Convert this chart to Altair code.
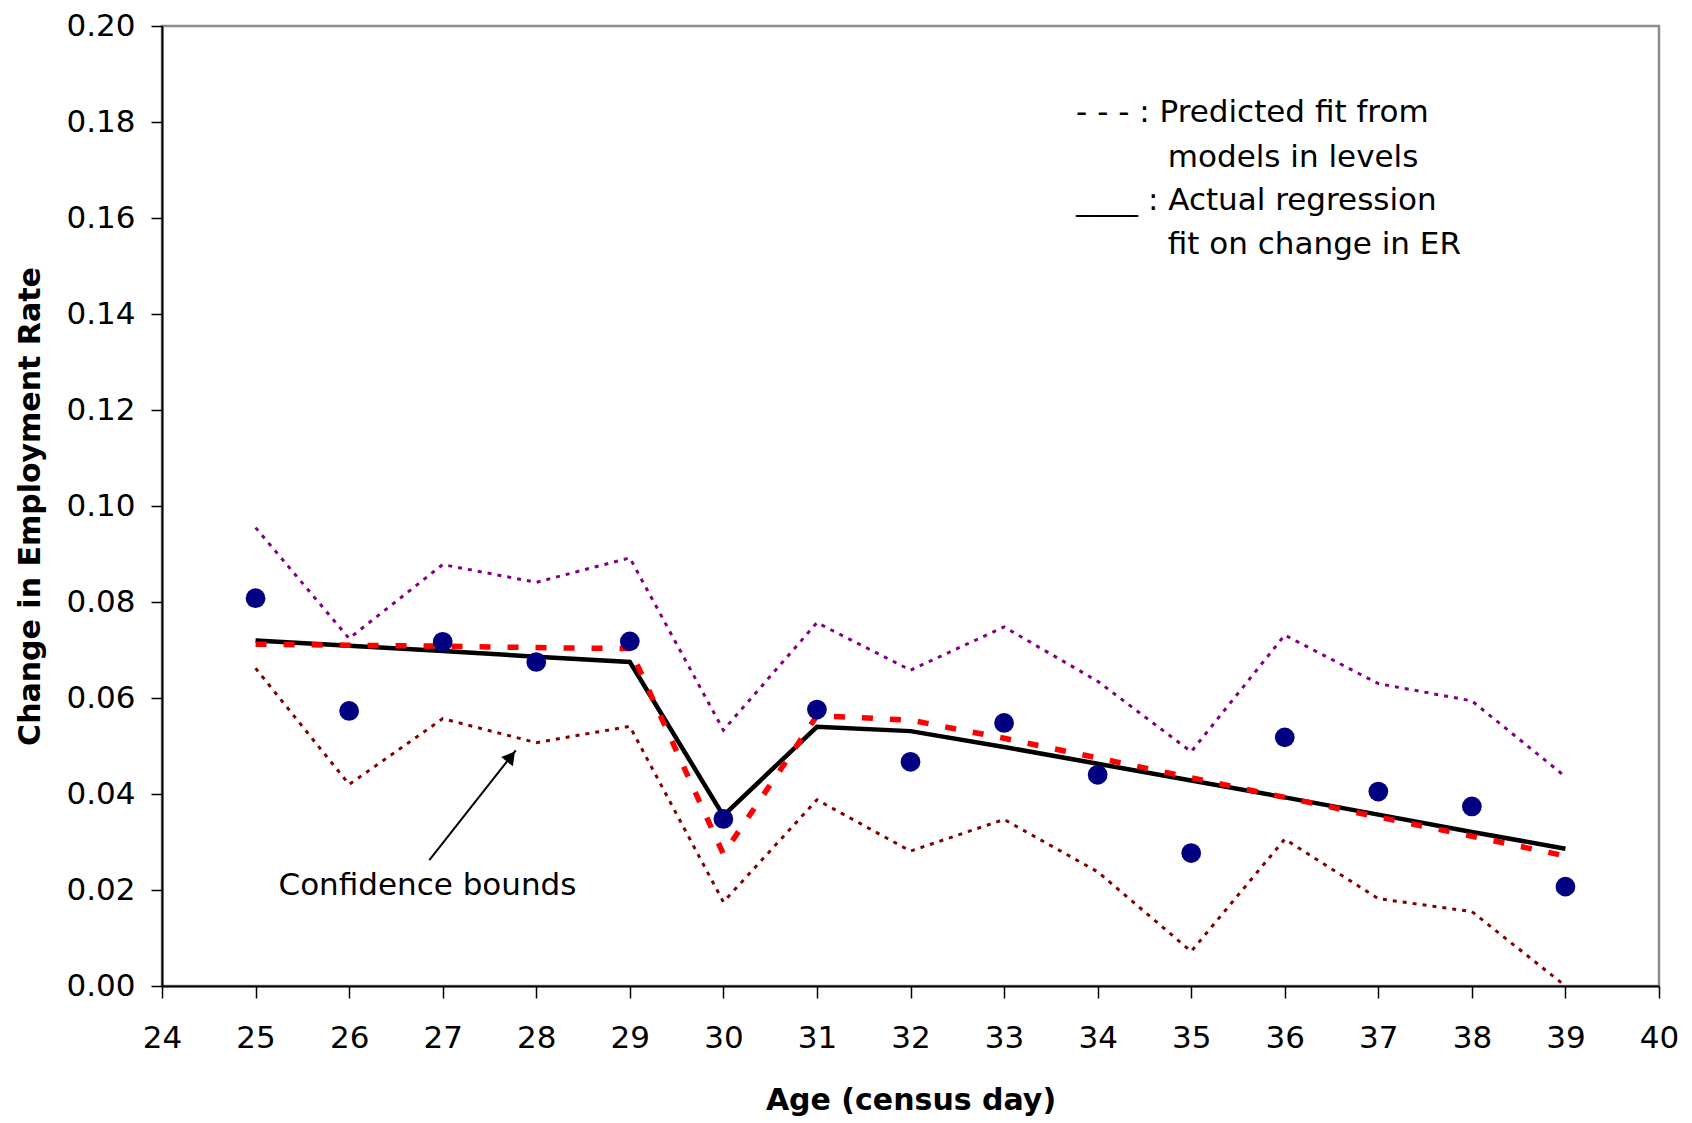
import altair as alt
import pandas as pd

# ---- data ----
ages = [25, 26, 27, 28, 29, 30, 31, 32, 33, 34, 35, 36, 37, 38, 39]
observed = [0.0808, 0.0573, 0.0717, 0.0675, 0.0718, 0.0348, 0.0576, 0.0467, 0.0548, 0.0440,
            0.0277, 0.0518, 0.0405, 0.0374, 0.0207]
actual_fit = [0.0720, 0.0709, 0.0698, 0.0686, 0.0675, 0.0355, 0.0540, 0.0531, 0.0498, 0.0463,
              0.0428, 0.0393, 0.0357, 0.0321, 0.0286]
predicted_fit = [0.0712, 0.0710, 0.0708, 0.0705, 0.0703, 0.0275, 0.0563, 0.0554, 0.0516, 0.0475,
                 0.0434, 0.0393, 0.0352, 0.0312, 0.0271]
upper_bound = [0.0955, 0.0724, 0.0878, 0.0841, 0.0892, 0.0533, 0.0757, 0.0658, 0.0748, 0.0635,
               0.0488, 0.0731, 0.0630, 0.0594, 0.0436]
lower_bound = [0.0662, 0.0420, 0.0557, 0.0507, 0.0541, 0.0175, 0.0388, 0.0281, 0.0347, 0.0238,
               0.0072, 0.0306, 0.0182, 0.0155, 0.0000]

legend_lines = ["- - - : Predicted fit from", "models in levels",
                "____ : Actual regression", "fit on change in ER"]
legend_x = [33.77, 34.75, 33.77, 34.75]
legend_y = [0.1800, 0.1707, 0.1617, 0.1526]

note_text = ["Confidence bounds"]
note_x = [25.245]
note_y = [0.0190]
arrow_x = [26.857]
arrow_y = [0.0262]
arrow_x2 = [27.781]
arrow_y2 = [0.0491]
head_x = [27.730]
head_y = [0.0478]

x_ticks = list(range(24, 41))
y_ticks = [round(0.02 * i, 2) for i in range(11)]

FONT = "DejaVu Sans"

df = pd.DataFrame({
    "age": ages, "obs": observed, "actual": actual_fit, "pred": predicted_fit,
    "hi": upper_bound, "lo": lower_bound,
})

xscale = alt.Scale(domain=[24, 40], nice=False, zero=False)
yscale = alt.Scale(domain=[0, 0.2], nice=False)

X = alt.X("age:Q", scale=xscale,
          axis=alt.Axis(values=x_ticks, format="d", title="Age (census day)",
                        grid=False, tickSize=12, labelPadding=25, titlePadding=32,
                        labelFontSize=31, titleFontSize=30, labelFont=FONT, titleFont=FONT,
                        titleFontWeight="bold", labelColor="black", titleColor="black",
                        domainColor="black", domainWidth=2, tickColor="black", tickWidth=1.5,
                        labelFlush=False))
def Y(field):
    return alt.Y(f"{field}:Q", scale=yscale,
                 axis=alt.Axis(values=y_ticks, format=".2f", title="Change in Employment Rate",
                               grid=False, tickSize=11, labelPadding=16, titlePadding=20,
                               labelFontSize=31, titleFontSize=30, labelFont=FONT, titleFont=FONT,
                               titleFontWeight="bold", labelColor="black", titleColor="black",
                               domainColor="black", domainWidth=2, tickColor="black",
                               tickWidth=1.5, labelFlush=False))

base = alt.Chart(df)

hi_line = base.mark_line(color="#800080", strokeWidth=3, strokeDash=[4, 6]).encode(x=X, y=Y("hi"))
lo_line = base.mark_line(color="#800000", strokeWidth=3, strokeDash=[4, 6]).encode(x=X, y=Y("lo"))
actual_line = base.mark_line(color="black", strokeWidth=4.5).encode(x=X, y=Y("actual"))
pred_line = base.mark_line(color="#FF0000", strokeWidth=5.5, strokeDash=[11, 17]).encode(x=X, y=Y("pred"))
points = base.mark_circle(color="#000080", size=390, opacity=1).encode(x=X, y=Y("obs"))

leg_df = pd.DataFrame({"t": legend_lines, "x": legend_x, "y": legend_y})
legend_text = alt.Chart(leg_df).mark_text(align="left", baseline="alphabetic", fontSize=31,
                                          font=FONT, color="black").encode(
    x=alt.X("x:Q", scale=xscale), y=alt.Y("y:Q", scale=yscale), text="t:N")

note_df = pd.DataFrame({"t": note_text, "x": note_x, "y": note_y})
note = alt.Chart(note_df).mark_text(align="left", baseline="alphabetic", fontSize=31,
                                    font=FONT, color="black").encode(
    x=alt.X("x:Q", scale=xscale), y=alt.Y("y:Q", scale=yscale), text="t:N")

arr_df = pd.DataFrame({"x": arrow_x, "y": arrow_y, "x2": arrow_x2, "y2": arrow_y2})
arrow = alt.Chart(arr_df).mark_rule(color="black", strokeWidth=2).encode(
    x=alt.X("x:Q", scale=xscale), y=alt.Y("y:Q", scale=yscale), x2="x2:Q", y2="y2:Q")
head_df = pd.DataFrame({"x": head_x, "y": head_y})
head = alt.Chart(head_df).mark_point(shape="triangle-up", filled=True, color="black",
                                     size=220, angle=38, opacity=1).encode(
    x=alt.X("x:Q", scale=xscale), y=alt.Y("y:Q", scale=yscale))

chart = alt.layer(hi_line, lo_line, actual_line, pred_line, points,
                  legend_text, note, arrow, head).properties(
    width=1497, height=960,
    autosize=alt.AutoSizeParams(type="none"),
    padding={"left": 154, "top": 18, "right": 25, "bottom": 137},
    background="white",
).configure_view(stroke="#8c8c8c", strokeWidth=2.5)

chart.save("out.html", embed_options={"renderer": "svg", "actions": False})
